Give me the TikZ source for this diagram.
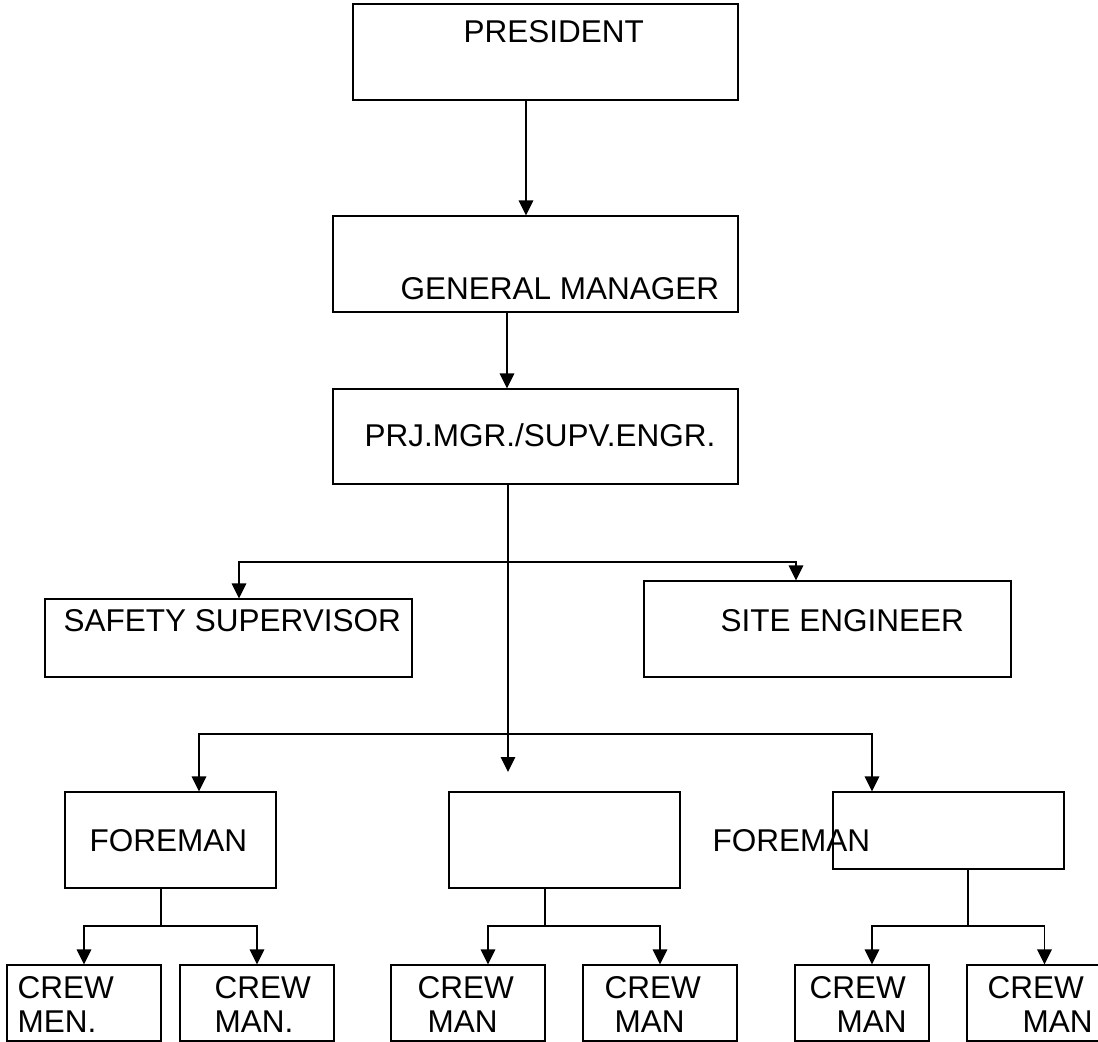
\documentclass[tikz,border=0pt]{standalone}
\usepackage{fontspec}
\setmainfont{Liberation Sans}
\usetikzlibrary{arrows.meta}

\begin{document}
\begin{tikzpicture}[x=0.5pt, y=-0.5pt, line width=0.65pt,
	box/.style={draw, inner sep=0pt},
	lbl/.style={anchor=base west, inner sep=0pt, font=\fontsize{15.75}{18.7}\selectfont},
	arr/.style={-{Triangle[length=7.5pt,width=7.3pt]}}]
	\useasboundingbox (0,0) rectangle (1098,1041);
	\clip (0,0) rectangle (1098,1041);
	%% boxes
	\node[box, minimum width=192.5pt, minimum height=48pt] (pres) at (545.5,52) {};
	\node[box, minimum width=202.5pt, minimum height=48pt] (gm) at (535.5,264) {};
	\node[box, minimum width=202.5pt, minimum height=47.5pt] (prj) at (535.5,436.5) {};
	\node[box, minimum width=183.5pt, minimum height=39pt] (safety) at (228.5,638) {};
	\node[box, minimum width=183.5pt, minimum height=48pt] (site) at (827.5,629) {};
	\node[box, minimum width=105.5pt, minimum height=48pt] (fmleft) at (170.5,840) {};
	\node[box, minimum width=115.5pt, minimum height=48pt] (fmmid) at (564.5,840) {};
	\node[box, minimum width=115.5pt, minimum height=38.5pt] (fmright) at (948.5,830.5) {};
	\node[box, minimum width=77pt, minimum height=38pt] (crewa) at (84,1003) {};
	\node[box, minimum width=77pt, minimum height=38pt] (crewb) at (257,1003) {};
	\node[box, minimum width=77pt, minimum height=38pt] (crewc) at (468,1003) {};
	\node[box, minimum width=77pt, minimum height=38pt] (crewd) at (660,1003) {};
	\node[box, minimum width=67pt, minimum height=38pt] (crewe) at (862,1003) {};
	\node[box, minimum width=81.5pt, minimum height=38pt] (crewf) at (1048.5,1003) {};
	%% texts
	\node[lbl] (tpres) at (463,42) {PRESIDENT};
	\node[lbl] (tgm) at (400,299) {GENERAL MANAGER};
	\node[lbl] (tprj) at (364,446) {PRJ.MGR./SUPV.ENGR.};
	\node[lbl] (tsafety) at (63,631) {SAFETY SUPERVISOR};
	\node[lbl] (tsite) at (720,631) {SITE ENGINEER};
	\node[lbl] (tfmleft) at (89,851) {FOREMAN};
	\node[lbl] (tfmmid) at (712,851) {FOREMAN};
	\node[lbl] (tcrewa) at (17,998) {CREW};
	\node[lbl] (tmena) at (17,1032) {MEN.};
	\node[lbl] (tcrewb) at (214,998) {CREW};
	\node[lbl] (tmanb) at (214,1032) {MAN.};
	\node[lbl] (tcrewc) at (417,998) {CREW};
	\node[lbl] (tmanc) at (427,1032) {MAN};
	\node[lbl] (tcrewd) at (604,998) {CREW};
	\node[lbl] (tmand) at (614,1032) {MAN};
	\node[lbl] (tcrewe) at (809,998) {CREW};
	\node[lbl] (tmane) at (836,1032) {MAN};
	\node[lbl] (tcrewf) at (987,998) {CREW};
	\node[lbl] (tmanf) at (1022,1032) {MAN};
	%% stems and junctions
	\coordinate (presx) at (526,0);
	\coordinate (gmx) at (507,0);
	\coordinate (prjx) at (508,0);
	\coordinate (jstaff) at (508,562);
	\coordinate (jfore) at (508,734);
	\coordinate (midtip) at (508,772);
	\coordinate (jleft) at (161,926);
	\coordinate (jmid) at (545,926);
	\coordinate (jright) at (968,926);
	%% connectors
	\draw[arr] (pres.south -| presx) -- (gm.north -| presx);
	\draw[arr] (gm.south -| gmx) -- (prj.north -| gmx);
	\draw[arr] (prj.south -| prjx) -- (midtip);
	\draw[arr] (jstaff) -| ([xshift=5.25pt]safety.north);
	\draw[arr] (jstaff) -| ([xshift=-15.75pt]site.north);
	\draw[arr] (jfore) -| ([xshift=14.25pt]fmleft.north);
	\draw[arr] (jfore) -| ([xshift=-38.25pt]fmright.north);
	\draw (fmleft.south -| jleft) -- (jleft);
	\draw[arr] (jleft) -| (crewa.north);
	\draw[arr] (jleft) -| (crewb.north);
	\draw (fmmid.south -| jmid) -- (jmid);
	\draw[arr] (jmid) -| ([xshift=10pt]crewc.north);
	\draw[arr] (jmid) -| (crewd.north);
	\draw (fmright.south -| jright) -- (jright);
	\draw[arr] (jright) -| ([xshift=5pt]crewe.north);
	\draw[arr] (jright) -| ([xshift=-2pt]crewf.north);
\end{tikzpicture}
\end{document}
